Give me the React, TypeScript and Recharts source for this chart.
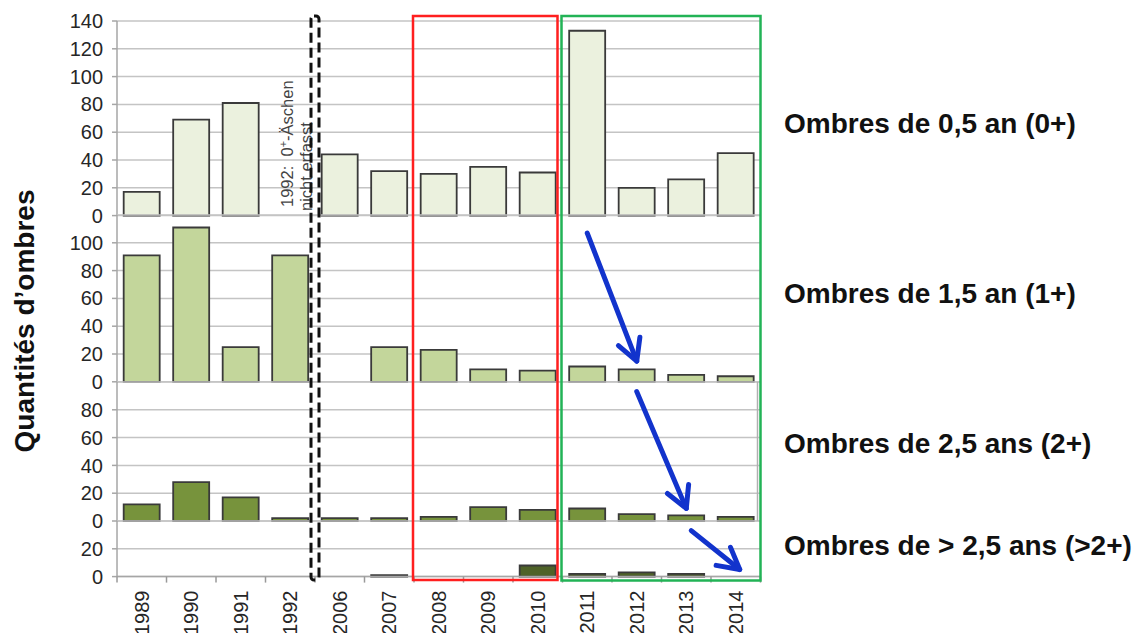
import { BarChart, Bar, XAxis, YAxis, CartesianGrid } from "recharts";

document.body.style.margin = "0";

const years = ["1989", "1990", "1991", "1992", "2006", "2007", "2008", "2009", "2010", "2011", "2012", "2013", "2014"];

// one array per age class (null = not caught / not recorded)
const ombres0 = [17, 69, 81, null, 44, 32, 30, 35, 31, 133, 20, 26, 45];
const ombres1 = [91, 111, 25, 91, null, 25, 23, 9, 8, 11, 9, 5, 4];
const ombres2 = [12, 28, 17, 2, 2, 2, 3, 10, 8, 9, 5, 4, 3];
const ombres3 = [null, null, null, null, null, 1, null, null, 8, 2, 3, 2, null];

const panelMax = [140, 120, 100, 40];
const panelTicks = [
  [0, 20, 40, 60, 80, 100, 120, 140],
  [0, 20, 40, 60, 80, 100],
  [0, 20, 40, 60, 80],
  [0, 20],
];
const panelLabels = [
  "Ombres de 0,5 an (0+)",
  "Ombres de 1,5 an (1+)",
  "Ombres de 2,5 ans (2+)",
  "Ombres de > 2,5 ans (>2+)",
];
const panelFills = ["#ebf1de", "#c3d69b", "#77933c", "#4f6228"];
const panelKeys = ["v0", "v1", "v2", "v3"];

const rows = years.map((year, i) => ({
  year,
  v0: ombres0[i],
  v1: ombres1[i],
  v2: ombres2[i],
  v3: ombres3[i],
}));

const FONT = '"Liberation Sans", Arial, sans-serif';
const PLOT_LEFT = 117;
const PLOT_RIGHT = 760.5;
const PLOT_TOP = 20.5;
const K = 1.39; // px per fish, same in every panel
const PAD = 14;
const CHART_W = 770;
const X_AXIS_H = 58;
const BAND = (PLOT_RIGHT - PLOT_LEFT) / years.length;

const heights = panelMax.map((m) => m * K);
const tops = heights.map((_, i) => PLOT_TOP + heights.slice(0, i).reduce((a, b) => a + b, 0));
const bottoms = tops.map((t, i) => t + heights[i]);

const xc = (i: number) => PLOT_LEFT + (i + 0.5) * BAND;
const xb = (i: number) => PLOT_LEFT + i * BAND;
const yv = (p: number, v: number) => bottoms[p] - v * K;

function YearTick(props: any) {
  const { x, y, payload, index } = props;
  return (
    <g>
      <line x1={x - BAND / 2} x2={x - BAND / 2} y1={y} y2={y + 6} stroke="#999" strokeWidth={1.5} />
      {index === years.length - 1 && (
        <line x1={x + BAND / 2} x2={x + BAND / 2} y1={y} y2={y + 6} stroke="#999" strokeWidth={1.5} />
      )}
      <text
        x={x + 7}
        y={y + 14}
        transform={`rotate(-90 ${x + 7} ${y + 14})`}
        textAnchor="end"
        fontSize={20}
        fill="#262626"
        fontFamily={FONT}
      >
        {payload.value}
      </text>
    </g>
  );
}

function Arrow({ x1, y1, x2, y2 }: { x1: number; y1: number; x2: number; y2: number }) {
  const a = Math.atan2(y2 - y1, x2 - x1);
  const len = 24;
  const spread = 0.5;
  const p1 = [x2 - len * Math.cos(a - spread), y2 - len * Math.sin(a - spread)];
  const p2 = [x2 - len * Math.cos(a + spread), y2 - len * Math.sin(a + spread)];
  return (
    <g stroke="#1233cc" strokeWidth={5} strokeLinecap="round" fill="none">
      <line x1={x1} y1={y1} x2={x2} y2={y2} />
      <polyline points={`${p1[0]},${p1[1]} ${x2},${y2} ${p2[0]},${p2[1]}`} strokeLinejoin="round" />
    </g>
  );
}

export default function App() {
  return (
    <div style={{ position: "relative", width: 1132, height: 633, background: "#fff", fontFamily: FONT }}>
      {panelMax.map((max, p) => {
        const last = p === panelMax.length - 1;
        const h = last ? heights[p] + PAD + X_AXIS_H + 4 : heights[p] + 2 * PAD;
        return (
          <div key={p} style={{ position: "absolute", left: 0, top: tops[p] - PAD }}>
            <BarChart
              width={CHART_W}
              height={h}
              data={rows}
              margin={{ top: PAD, right: CHART_W - PLOT_RIGHT, bottom: last ? 4 : PAD, left: 0 }}
              barCategoryGap="13.5%"
            >
              <CartesianGrid vertical={false} stroke="#c4c4c4" strokeWidth={1.5} />
              <XAxis
                dataKey="year"
                hide={!last}
                height={X_AXIS_H}
                interval={0}
                tickSize={0}
                tickMargin={0}
                tickLine={false}
                axisLine={{ stroke: "#a6a6a6", strokeWidth: 1.5 }}
                tick={<YearTick />}
              />
              <YAxis
                width={PLOT_LEFT}
                domain={[0, max]}
                ticks={panelTicks[p]}
                interval={0}
                tickSize={5}
                tickMargin={9}
                axisLine={{ stroke: "#a6a6a6", strokeWidth: 1.5 }}
                tickLine={{ stroke: "#a6a6a6", strokeWidth: 1.5 }}
                tick={{ fontSize: 20, fill: "#262626", fontFamily: FONT }}
              />
              <Bar
                dataKey={panelKeys[p]}
                fill={panelFills[p]}
                stroke="#3a3a3a"
                strokeWidth={1.8}
                isAnimationActive={false}
              />
            </BarChart>
          </div>
        );
      })}

      <svg
        width={1132}
        height={633}
        style={{ position: "absolute", left: 0, top: 0, pointerEvents: "none" }}
        fontFamily={FONT}
      >
        {/* right border of the 2+ panel */}
        <line x1={PLOT_RIGHT - 3} x2={PLOT_RIGHT - 3} y1={tops[2]} y2={bottoms[2]} stroke="#b0b0b0" strokeWidth={1.5} />

        {/* note for 1992 */}
        <text x={293} y={207} transform="rotate(-90 293 207)" fontSize={16.5} fill="#444">
          {"1992:\u00a0\u00a00"}
          <tspan dy={-6} fontSize={11}>+</tspan>
          <tspan dy={6}>-Äschen</tspan>
        </text>
        <text x={312} y={211} transform="rotate(-90 312 211)" fontSize={16.5} fill="#444">
          nicht erfasst
        </text>

        {/* gap between the two survey periods */}
        <rect
          x={xb(4) - 4}
          y={16}
          width={8}
          height={564}
          rx={3}
          fill="none"
          stroke="#111"
          strokeWidth={3}
          strokeDasharray="10 5"
        />
        <rect x={xb(6) - 1} y={16} width={xb(9) - xb(6) - 4} height={564} fill="none" stroke="#ff1f1f" strokeWidth={2.5} />
        <rect x={xb(9) - 1} y={16} width={xb(13) - xb(9) + 1} height={564.5} fill="none" stroke="#22b356" strokeWidth={2.5} />

        <Arrow x1={xc(9)} y1={yv(1, 107)} x2={xc(10)} y2={yv(1, 15)} />
        <Arrow x1={xc(10)} y1={yv(2, 93)} x2={xc(11)} y2={yv(2, 9)} />
        <Arrow x1={xc(11) + 5} y1={yv(3, 33)} x2={xc(12) + 4} y2={yv(3, 5)} />

        <text
          x={34}
          y={321}
          transform="rotate(-90 34 321)"
          textAnchor="middle"
          fontSize={28}
          fontWeight="bold"
          fill="#111"
        >
          Quantités d’ombres
        </text>

        {panelLabels.map((label, p) => (
          <text key={label} x={784} y={[133, 303, 453, 555][p]} fontSize={28} fontWeight="bold" fill="#111">
            {label}
          </text>
        ))}
      </svg>
    </div>
  );
}
